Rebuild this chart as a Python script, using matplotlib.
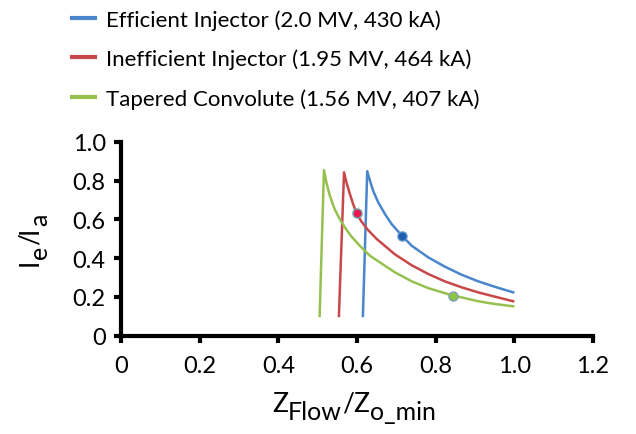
import matplotlib
matplotlib.use("Agg")
import matplotlib.pyplot as plt
from matplotlib.lines import Line2D

plt.rcParams['font.family'] = ['Lato', 'DejaVu Sans']

# courbes
blue_x = [0.615, 0.626, 0.633, 0.641, 0.654, 0.671, 0.688, 0.714, 0.739, 0.781,
          0.823, 0.866, 0.908, 0.950, 0.997]
blue_y = [0.101, 0.849, 0.800, 0.748, 0.688, 0.628, 0.576, 0.516, 0.464, 0.404,
          0.356, 0.314, 0.280, 0.252, 0.223]
red_x = [0.554, 0.567, 0.573, 0.582, 0.590, 0.599, 0.611, 0.628, 0.650, 0.675,
         0.696, 0.739, 0.781, 0.823, 0.866, 0.908, 0.950, 0.997]
red_y = [0.101, 0.843, 0.792, 0.731, 0.680, 0.632, 0.590, 0.545, 0.499, 0.456,
         0.420, 0.363, 0.318, 0.280, 0.249, 0.223, 0.201, 0.177]
green_x = [0.505, 0.516, 0.522, 0.531, 0.543, 0.556, 0.569, 0.586, 0.607, 0.633,
           0.696, 0.739, 0.781, 0.844, 0.866, 0.908, 0.950, 0.997]
green_y = [0.101, 0.855, 0.792, 0.722, 0.654, 0.602, 0.559, 0.511, 0.464, 0.412,
           0.327, 0.280, 0.245, 0.206, 0.197, 0.177, 0.163, 0.151]

# points de fonctionnement
dot_x = [0.714, 0.599, 0.844]
dot_y = [0.516, 0.632, 0.206]

labels = ['Efficient Injector (2.0 MV, 430 kA)',
          'Inefficient Injector (1.95 MV, 464 kA)',
          'Tapered Convolute (1.56 MV, 407 kA)']
xticks = [0, 0.2, 0.4, 0.6, 0.8, 1.0, 1.2]
xtick_labels = ['0', '0.2', '0.4', '0.6', '0.8', '1.0', '1.2']
yticks = [0, 0.2, 0.4, 0.6, 0.8, 1.0]
ytick_labels = ['0', '0.2', '0.4', '0.6', '0.8', '1.0']

colors = ['#4a86cc', '#c8484a', '#96c150']
dot_colors = ['#1d5fae', '#ea1a50', '#8cc63f']
dot_edges = ['#5a8fc8', '#6aa0a8', '#7f9fb8']

W, H = 636, 435
fig = plt.figure(figsize=(W / 100, H / 100), dpi=100)
ax = fig.add_axes([121 / W, 1 - 336.5 / H, (593 - 121) / W, (336.5 - 143) / H])

for xs, ys, c in zip([blue_x, red_x, green_x], [blue_y, red_y, green_y], colors):
    ax.plot(xs, ys, color=c, lw=1.8, solid_joinstyle='round')
for xd, yd, c, e in zip(dot_x, dot_y, dot_colors, dot_edges):
    ax.plot(xd, yd, 'o', color=c, markeredgecolor=e, markersize=6.5, mew=1)

ax.set_xlim(0, 1.2)
ax.set_ylim(0, 1.0)
ax.set_xticks(xticks)
ax.set_xticklabels(xtick_labels)
ax.set_yticks(yticks)
ax.set_yticklabels(ytick_labels)
for s in ['top', 'right']:
    ax.spines[s].set_visible(False)
for s in ['left', 'bottom']:
    ax.spines[s].set_linewidth(3)
    ax.spines[s].set_capstyle('projecting')
ax.tick_params(axis='both', length=5, width=3, labelsize=17)
ax.tick_params(axis='x', pad=9)
ax.tick_params(axis='y', pad=6)

# légende
handles = [Line2D([], [], color=c, lw=3) for c in colors]
fig.legend(handles, labels, loc='upper left', bbox_to_anchor=(72 / W, 1 - 10 / H),
           frameon=False, fontsize=16, handlelength=1.05, handletextpad=0.5,
           labelspacing=0.85, borderpad=0, borderaxespad=0)

# titre de l'axe x : Z_Flow / Z_o_min (indices presque pleine taille)
prev = fig.text(272 / W, 1 - 412 / H, 'Z', fontsize=19, va='baseline', ha='left')
for txt, fs, dy in [('Flow', 18, -5), ('/', 19, 5), ('Z', 19, 0), ('o_min', 18, -5)]:
    prev = ax.annotate(txt, xy=(1, 0), xycoords=prev, xytext=(0, dy),
                       textcoords='offset points', fontsize=fs,
                       ha='left', va='bottom', annotation_clip=False)

# titre de l'axe y : I_e / I_a
prev = fig.text(43 / W, 1 - 266 / H, 'I', fontsize=19, rotation=90,
                ha='right', va='bottom')
for txt, fs, dx in [('e', 18, 6), ('/', 19, -6), ('I', 19, 0), ('a', 18, 6)]:
    prev = ax.annotate(txt, xy=(1, 1), xycoords=prev, xytext=(dx, 0),
                       textcoords='offset points', fontsize=fs, rotation=90,
                       ha='right', va='bottom', annotation_clip=False)

fig.savefig('out.png', dpi=100)
